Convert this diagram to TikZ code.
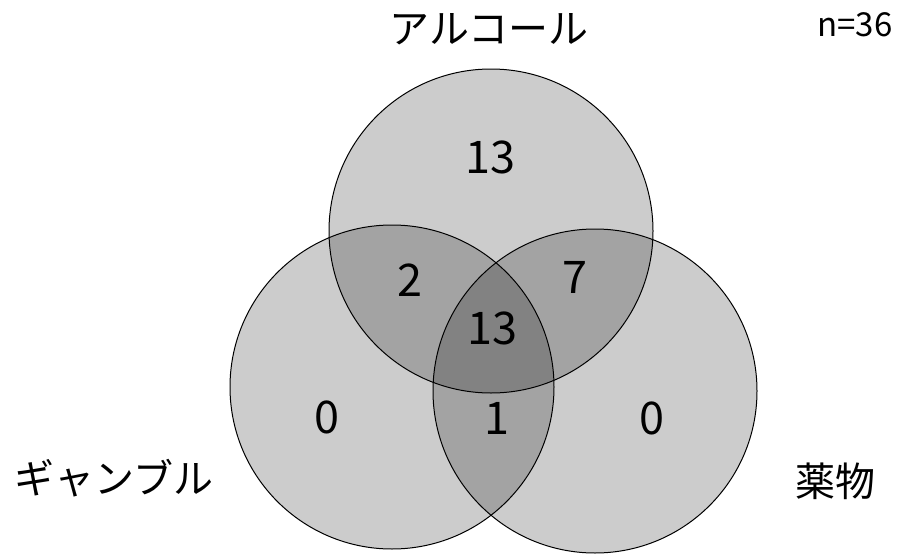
\documentclass[tikz,border=0pt]{standalone}
\usepackage{fontspec}
\setmainfont{Noto Sans CJK JP}
\begin{document}
\begin{tikzpicture}[x=1pt,y=-1pt,
  setc/.style={draw=black, line width=1pt, fill=black, fill opacity=0.2},
  lab/.style={inner sep=0pt, anchor=center, font=\fontsize{40}{48}\selectfont},
  num/.style={inner sep=0pt, anchor=center, font=\fontsize{45}{54}\selectfont},
  note/.style={inner sep=0pt, anchor=center, font=\fontsize{33}{40}\selectfont}]
\useasboundingbox (0,0) rectangle (900,554);
\coordinate (cA) at (491,231);
\coordinate (cG) at (392,387);
\coordinate (cD) at (595,391);
\path[setc] (cA) circle[radius=162];
\path[setc] (cG) circle[radius=162];
\path[setc] (cD) circle[radius=162];
\node[lab] (la) at (489,29) {アルコール};
\node[lab] (lg) at (114,478) {ギャンブル};
\node[lab] (ld) at (835,481) {薬物};
\node[note] (n) at (855,25) {n=36};
\node[num] (a) at (490,157) {13};
\node[num] (ag) at (410,280) {2};
\node[num] (ad) at (575,277) {7};
\node[num] (agd) at (492,328) {13};
\node[num] (g) at (327,417) {0};
\node[num] (gd) at (497,418) {1};
\node[num] (d) at (652,418) {0};
\end{tikzpicture}
\end{document}
